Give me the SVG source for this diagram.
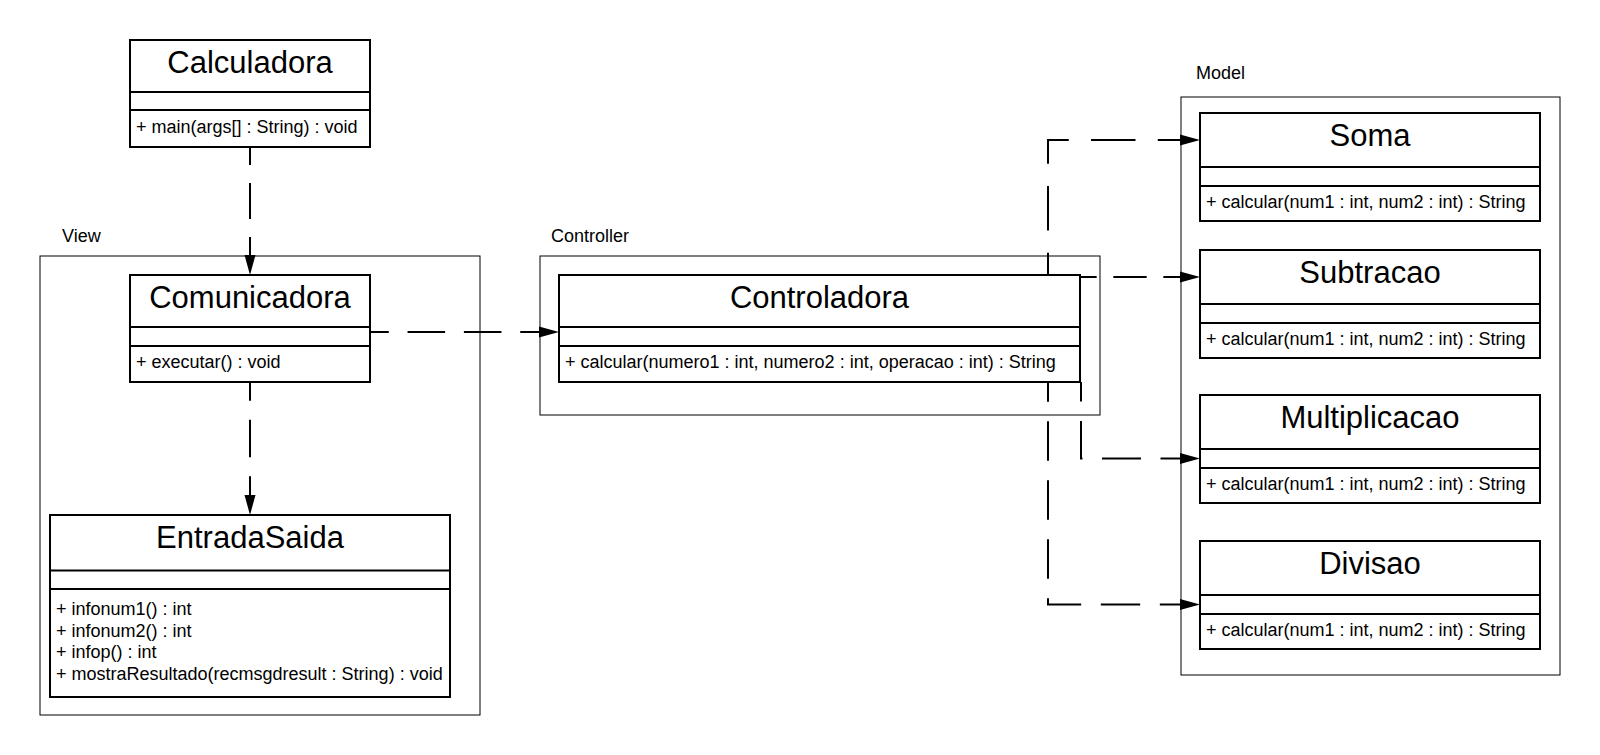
<svg xmlns="http://www.w3.org/2000/svg" width="1600" height="755" viewBox="0 0 1600 755">
<defs>
<marker id="arr" markerUnits="userSpaceOnUse" markerWidth="20" markerHeight="12" viewBox="0 0 20 12" refX="0" refY="6" orient="auto">
<polygon points="0,0.5 20,6 0,11.5" fill="#000"/>
</marker>
<style>
text{font-family:"Liberation Sans",Arial,sans-serif;fill:#000}
.cont{fill:none;stroke:#000;stroke-width:1}
.box{fill:#fff;stroke:#000;stroke-width:2}
.div{stroke:#000;stroke-width:2}
.title{font-size:31px;text-anchor:middle}
.m{font-size:18px}
.lbl{font-size:18px}
.c{fill:none;stroke:#000;stroke-width:2;marker-end:url(#arr)}
</style>
</defs>
<rect width="1600" height="755" fill="#fff"/>

<g id="view">
<rect class="cont" x="40" y="256" width="440" height="459"/>
<text class="lbl" x="62" y="242">View</text>
</g>
<g id="controller">
<rect class="cont" x="540" y="256" width="560" height="159"/>
<text class="lbl" x="551" y="242">Controller</text>
</g>
<g id="model">
<rect class="cont" x="1181" y="97" width="379" height="578"/>
<text class="lbl" x="1196" y="79">Model</text>
</g>

<g id="calculadora">
<rect class="box" x="130" y="40" width="240" height="107"/>
<line class="div" x1="130" y1="92" x2="370" y2="92"/>
<line class="div" x1="130" y1="110" x2="370" y2="110"/>
<text class="title" x="250" y="72.5">Calculadora</text>
<text class="m" x="136" y="133">+ main(args[] : String) : void</text>
</g>

<g id="comunicadora">
<rect class="box" x="130" y="275" width="240" height="107"/>
<line class="div" x1="130" y1="327" x2="370" y2="327"/>
<line class="div" x1="130" y1="346" x2="370" y2="346"/>
<text class="title" x="250" y="307.5">Comunicadora</text>
<text class="m" x="136" y="368">+ executar() : void</text>
</g>

<g id="entradasaida">
<rect class="box" x="50" y="515" width="400" height="182"/>
<line class="div" x1="50" y1="570.5" x2="450" y2="570.5"/>
<line class="div" x1="50" y1="589" x2="450" y2="589"/>
<text class="title" x="250" y="548">EntradaSaida</text>
<text class="m" x="56" y="615">+ infonum1() : int</text>
<text class="m" x="56" y="636.7">+ infonum2() : int</text>
<text class="m" x="56" y="658.3">+ infop() : int</text>
<text class="m" x="56" y="680">+ mostraResultado(recmsgdresult : String) : void</text>
</g>

<g id="controladora">
<rect class="box" x="559" y="275" width="521" height="107"/>
<line class="div" x1="559" y1="327" x2="1080" y2="327"/>
<line class="div" x1="559" y1="346" x2="1080" y2="346"/>
<text class="title" x="819.5" y="307.5">Controladora</text>
<text class="m" x="565" y="368">+ calcular(numero1 : int, numero2 : int, operacao : int) : String</text>
</g>

<g id="soma">
<rect class="box" x="1200" y="113" width="340" height="108"/>
<line class="div" x1="1200" y1="167" x2="1540" y2="167"/>
<line class="div" x1="1200" y1="186" x2="1540" y2="186"/>
<text class="title" x="1370" y="146.3">Soma</text>
<text class="m" x="1206" y="208">+ calcular(num1 : int, num2 : int) : String</text>
</g>

<g id="subtracao">
<rect class="box" x="1200" y="250" width="340" height="108"/>
<line class="div" x1="1200" y1="304" x2="1540" y2="304"/>
<line class="div" x1="1200" y1="323" x2="1540" y2="323"/>
<text class="title" x="1370" y="283.3">Subtracao</text>
<text class="m" x="1206" y="345">+ calcular(num1 : int, num2 : int) : String</text>
</g>

<g id="multiplicacao">
<rect class="box" x="1200" y="395" width="340" height="108"/>
<line class="div" x1="1200" y1="449" x2="1540" y2="449"/>
<line class="div" x1="1200" y1="468" x2="1540" y2="468"/>
<text class="title" x="1370" y="428.3">Multiplicacao</text>
<text class="m" x="1206" y="490">+ calcular(num1 : int, num2 : int) : String</text>
</g>

<g id="divisao">
<rect class="box" x="1200" y="541" width="340" height="108"/>
<line class="div" x1="1200" y1="595" x2="1540" y2="595"/>
<line class="div" x1="1200" y1="614" x2="1540" y2="614"/>
<text class="title" x="1370" y="574.3">Divisao</text>
<text class="m" x="1206" y="636">+ calcular(num1 : int, num2 : int) : String</text>
</g>

<g id="connectors">
<path class="c" d="M250,147 V255" stroke-dasharray="36 18" stroke-dashoffset="18"/>
<path class="c" d="M250,382 V495" stroke-dasharray="37.67 18.83" stroke-dashoffset="18.83"/>
<path class="c" d="M370,332 H539" stroke-dasharray="37.56 18.78" stroke-dashoffset="18.78"/>
<path class="c" d="M1048,275 V140 H1180" stroke-dasharray="44.5 22.25" stroke-dashoffset="22.25"/>
<path class="c" d="M1080,277 H1180" stroke-dasharray="33.33 16.67" stroke-dashoffset="16.67"/>
<path class="c" d="M1081,382 V458.5 H1180" stroke-dasharray="39 19.5" stroke-dashoffset="19.5"/>
<path class="c" d="M1048,382 V604.5 H1180" stroke-dasharray="39.33 19.67" stroke-dashoffset="19.67"/>
</g>
</svg>
